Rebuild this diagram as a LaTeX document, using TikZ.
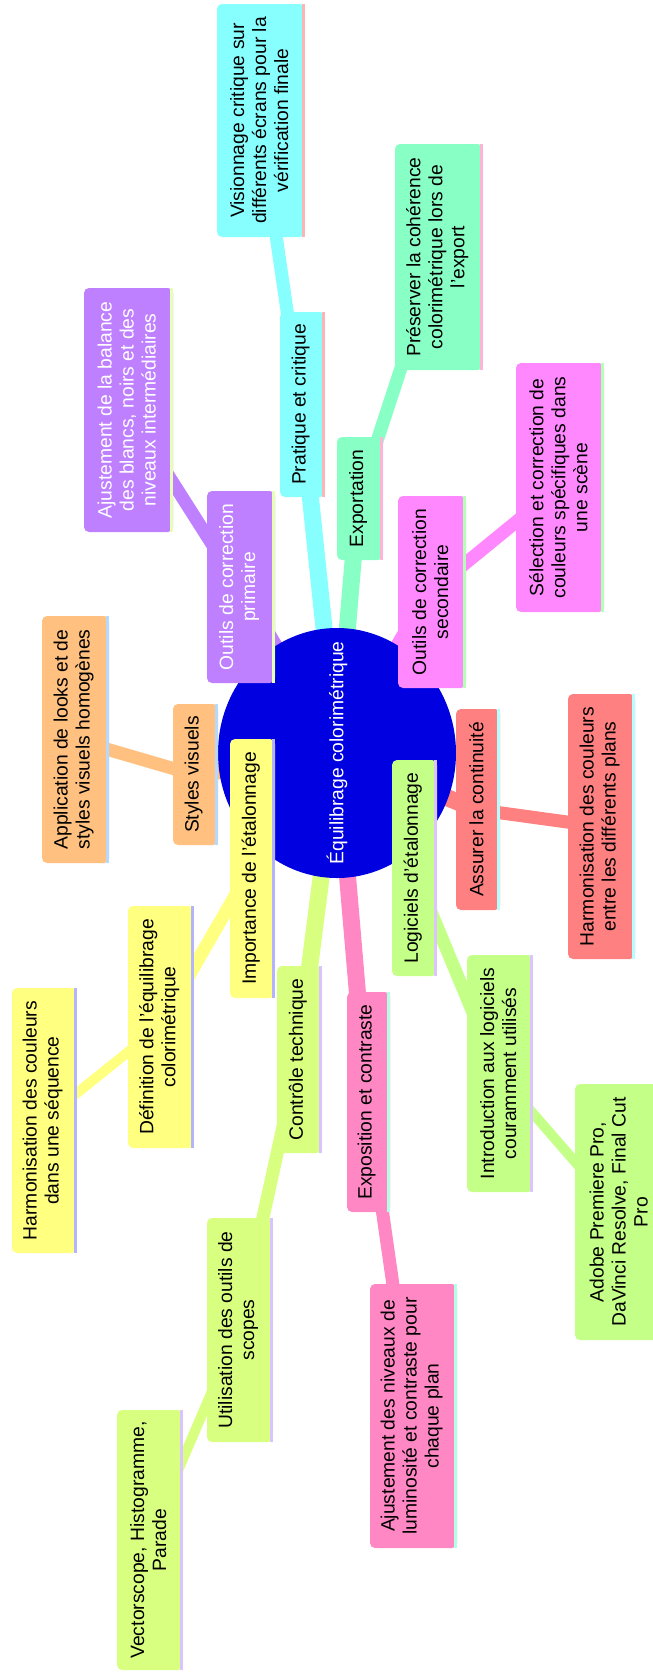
\documentclass[tikz,border=0pt]{standalone}
\usepackage{fontspec}
\setmainfont{Liberation Sans}
\pgfdeclarelayer{bg}
\pgfsetlayers{bg,main}
\definecolor{rootblue}{HTML}{0000E0}
\definecolor{cyanF}{HTML}{88FFFF}\definecolor{cyanS}{HTML}{FFB3B3}
\definecolor{mintF}{HTML}{88FFC4}\definecolor{mintS}{HTML}{FFB3D9}
\definecolor{purpF}{HTML}{BF80FF}\definecolor{purpS}{HTML}{E6FFB3}
\definecolor{magF}{HTML}{FF88FF}\definecolor{magS}{HTML}{B3FFB3}
\definecolor{oranF}{HTML}{FFC080}\definecolor{oranS}{HTML}{B3D9FF}
\definecolor{yelF}{HTML}{FFFF80}\definecolor{yelS}{HTML}{B3B3FF}
\definecolor{ygF}{HTML}{D9FF80}\definecolor{ygS}{HTML}{D9C4FF}
\definecolor{pinkF}{HTML}{FF88C4}\definecolor{pinkS}{HTML}{B3FFE6}
\definecolor{lgF}{HTML}{C4FF88}\definecolor{lgS}{HTML}{DDC4FF}
\definecolor{salF}{HTML}{FF8080}\definecolor{salS}{HTML}{B3FFFF}
% name, xl, yt, xr, yb, fill, strip, textcolor, text
\newcommand\mmnode[9]{%
  \fill[#6, rounded corners=5pt] (#2,#3) rectangle (#4,#5);
  \fill[#7] ({#4-3.5},#3) rectangle (#4,#5);
  \node[mmtext, text=#8] (#1) at ({(#2+#4-3.5)/2},{(#3+#5)/2}) {#9};
}
\begin{document}
\begin{tikzpicture}[x=1pt,y=-1pt,
  mmtext/.style={rotate=90, align=center, font=\fontsize{19.3}{22}\selectfont, inner sep=0pt},
  lvA/.style={line width=17pt},
  lvB/.style={line width=13pt},
  lvC/.style={line width=10pt}]
\useasboundingbox (0,0) rectangle (653,1673);
\clip (0,0) rectangle (653,1673);

\fill[rootblue] (337,753) ellipse [x radius=119, y radius=125];
\node[mmtext, text=white] (root) at (337,753) {Équilibrage colorimétrique};

% level 1
\mmnode{prat}{280}{312}{325}{497}{cyanF}{cyanS}{black}{Pratique et critique}
\mmnode{expo}{337}{437}{383}{560}{mintF}{mintS}{black}{Exportation}
\mmnode{prim}{207}{491}{275}{683}{purpF}{purpS}{white}{Outils de correction\\primaire}
\mmnode{seco}{398}{496}{466}{688}{magF}{magS}{black}{Outils de correction\\secondaire}
\mmnode{styl}{173}{704}{218}{845}{oranF}{oranS}{black}{Styles visuels}
\mmnode{impo}{230}{739}{275}{998}{yelF}{yelS}{black}{Importance de l'étalonnage}
\mmnode{logi}{392}{760}{437}{976}{lgF}{lgS}{black}{Logiciels d'étalonnage}
\mmnode{assu}{456}{709}{500}{910}{salF}{salS}{black}{Assurer la continuité}
\mmnode{ctrl}{277}{966}{322}{1153}{ygF}{ygS}{black}{Contrôle technique}
\mmnode{expc}{347}{992}{390}{1212}{pinkF}{pinkS}{black}{Exposition et contraste}

% level 2
\mmnode{visi}{217}{4}{305}{237}{cyanF}{cyanS}{black}{Visionnage critique sur\\différents écrans pour la\\vérification finale}
\mmnode{pres}{395}{144}{483}{370}{mintF}{mintS}{black}{Préserver la cohérence\\colorimétrique lors de\\l'export}
\mmnode{ajba}{84}{288}{173}{532}{purpF}{purpS}{white}{Ajustement de la balance\\des blancs, noirs et des\\niveaux intermédiaires}
\mmnode{sele}{516}{363}{604}{612}{magF}{magS}{black}{Sélection et correction de\\couleurs spécifiques dans\\une scène}
\mmnode{appl}{42}{616}{109}{863}{oranF}{oranS}{black}{Application de looks et de\\styles visuels homogènes}
\mmnode{defi}{128}{906}{194}{1148}{yelF}{yelS}{black}{Définition de l'équilibrage\\colorimétrique}
\mmnode{harp}{568}{694}{635}{959}{salF}{salS}{black}{Harmonisation des couleurs\\entre les différents plans}
\mmnode{intr}{467}{955}{533}{1192}{lgF}{lgS}{black}{Introduction aux logiciels\\couramment utilisés}
\mmnode{util}{207}{1218}{273}{1442}{ygF}{ygS}{black}{Utilisation des outils de\\scopes}
\mmnode{ajlu}{370}{1284}{457}{1548}{pinkF}{pinkS}{black}{Ajustement des niveaux de\\luminosité et contraste pour\\chaque plan}

% level 3
\mmnode{hars}{12}{988}{77}{1253}{yelF}{yelS}{black}{Harmonisation des couleurs\\dans une séquence}
\mmnode{vect}{117}{1410}{183}{1670}{ygF}{ygS}{black}{Vectorscope, Histogramme,\\Parade}
\mmnode{adob}{575}{1084}{666}{1340}{lgF}{lgS}{black}{Adobe Premiere Pro,\\DaVinci Resolve, Final Cut\\Pro}

\begin{pgfonlayer}{bg}
\draw[lvA, cyanF] (root.center) -- (prat.center);
\draw[lvA, mintF] (root.center) -- (expo.center);
\draw[lvA, purpF] (root.center) -- (prim.center);
\draw[lvA, magF]  (root.center) -- (seco.center);
\draw[lvA, oranF] (root.center) -- (styl.center);
\draw[lvA, yelF]  (root.center) -- (impo.center);
\draw[lvA, lgF]   (root.center) -- (logi.center);
\draw[lvA, salF]  (root.center) -- (assu.center);
\draw[lvA, ygF]   (root.center) -- (ctrl.center);
\draw[lvA, pinkF] (root.center) -- (expc.center);

\draw[lvB, cyanF] (prat.center) -- (visi.center);
\draw[lvB, mintF] (expo.center) -- (pres.center);
\draw[lvB, purpF] (prim.center) -- (ajba.center);
\draw[lvB, magF]  (seco.center) -- (sele.center);
\draw[lvB, oranF] (styl.center) -- (appl.center);
\draw[lvB, yelF]  (impo.center) -- (defi.center);
\draw[lvB, salF]  (assu.center) -- (harp.center);
\draw[lvB, lgF]   (logi.center) -- (intr.center);
\draw[lvB, ygF]   (ctrl.center) -- (util.center);
\draw[lvB, pinkF] (expc.center) -- (ajlu.center);

\draw[lvC, yelF]  (defi.center) -- (hars.center);
\draw[lvC, ygF]   (util.center) -- (vect.center);
\draw[lvC, lgF]   (intr.center) -- (adob.center);
\end{pgfonlayer}
\end{tikzpicture}
\end{document}
